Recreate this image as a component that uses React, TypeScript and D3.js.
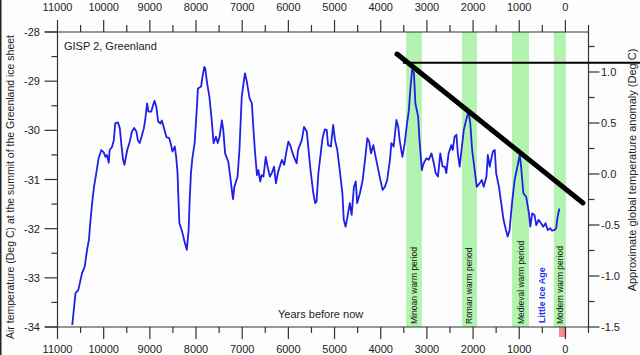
import React from "react";
import * as d3 from "d3";

const years = [10680,10610,10550,10470,10410,10360,10320,10290,10250,10210,10160,10110,10050,10000,9960,9930,9890,9870,9820,9780,9750,9690,9650,9620,9580,9550,9490,9440,9390,9340,9290,9260,9220,9180,9130,9100,9060,9030,8970,8940,8900,8860,8820,8770,8740,8700,8640,8580,8540,8510,8460,8430,8400,8380,8360,8300,8250,8200,8160,8140,8110,8080,8030,7980,7960,7890,7860,7820,7800,7760,7710,7660,7620,7570,7530,7490,7440,7410,7370,7300,7250,7200,7170,7100,7060,7010,6970,6940,6900,6840,6790,6760,6720,6680,6650,6610,6580,6540,6490,6450,6400,6360,6310,6270,6220,6140,6090,6050,6000,5960,5930,5880,5820,5790,5710,5660,5600,5570,5520,5460,5420,5390,5350,5300,5260,5210,5170,5140,5080,5030,4990,4940,4880,4830,4800,4760,4720,4670,4630,4580,4540,4510,4450,4390,4340,4290,4250,4210,4160,4110,4030,3960,3910,3860,3800,3770,3720,3660,3620,3590,3530,3480,3430,3390,3360,3320,3280,3250,3190,3160,3110,3070,3010,2960,2900,2850,2810,2760,2710,2660,2610,2580,2530,2470,2440,2400,2360,2330,2290,2250,2200,2150,2100,2060,2020,1970,1920,1860,1810,1770,1710,1680,1640,1610,1570,1530,1500,1440,1390,1340,1280,1250,1210,1150,1100,1040,990,960,910,850,790,760,720,670,630,580,530,480,430,380,330,290,240,200,170,130];

const temps = [-33.96,-33.31,-33.25,-32.91,-32.77,-32.43,-32.23,-31.88,-31.48,-31.15,
-30.87,-30.57,-30.40,-30.45,-30.54,-30.50,-30.66,-30.40,-30.34,-30.20,
-29.86,-29.84,-29.96,-30.26,-30.60,-30.70,-30.40,-30.25,-30.03,-29.95,
-30.03,-30.20,-30.26,-30.13,-29.96,-29.79,-29.45,-29.62,-29.62,-29.52,
-29.40,-29.52,-29.82,-29.86,-29.80,-29.93,-30.14,-30.16,-30.30,-30.43,
-30.33,-30.54,-30.87,-31.42,-31.89,-32.06,-32.26,-32.43,-32.03,-31.48,
-30.87,-30.57,-30.26,-29.52,-29.15,-29.11,-28.91,-28.71,-28.74,-29.04,
-29.32,-29.79,-30.26,-30.13,-30.26,-30.13,-29.80,-29.99,-30.47,-30.64,
-31.01,-31.40,-31.15,-30.94,-30.40,-29.32,-29.04,-28.84,-29.01,-29.35,
-29.45,-29.93,-30.47,-30.91,-30.81,-31.04,-30.91,-30.94,-30.54,-30.74,
-30.94,-30.87,-30.74,-31.08,-30.84,-30.60,-30.70,-30.47,-30.23,-30.30,
-30.40,-30.54,-30.67,-30.40,-30.20,-29.93,-30.03,-30.33,-30.81,-31.28,
-31.48,-31.45,-30.87,-30.47,-30.16,-29.98,-29.99,-30.30,-30.33,-29.89,
-30.20,-30.40,-30.87,-31.28,-31.82,-31.96,-31.76,-31.48,-31.72,-31.15,
-31.04,-31.48,-31.28,-31.01,-30.60,-30.16,-30.23,-30.47,-30.30,-30.54,
-30.91,-31.21,-31.15,-31.01,-30.60,-30.26,-30.33,-29.79,-29.93,-30.20,
-30.54,-30.26,-29.86,-29.59,-29.18,-28.77,-28.84,-29.45,-29.72,-30.20,
-30.81,-30.67,-30.57,-30.60,-30.47,-30.67,-30.87,-30.94,-30.47,-30.74,
-30.74,-30.87,-30.47,-30.30,-30.40,-30.13,-30.09,-30.47,-30.74,-30.40,
-29.99,-29.79,-29.62,-29.86,-30.40,-30.77,-31.15,-31.08,-31.01,-31.15,
-30.94,-30.50,-30.74,-30.60,-30.43,-30.40,-30.87,-31.15,-31.48,-31.82,
-32.06,-32.16,-32.03,-31.42,-31.01,-30.74,-30.50,-30.74,-31.28,-31.35,
-31.69,-31.96,-31.69,-31.72,-31.93,-31.82,-31.89,-31.96,-31.89,-32.03,
-31.99,-32.04,-32.03,-31.99,-31.76,-31.59];

const yearTicks = [11000,10000,9000,8000,7000,6000,5000,4000,3000,2000,1000,0];
const yearMinorTicks = [10500,9500,8500,7500,6500,5500,4500,3500,2500,1500,500,-500];
const tempTicks = [-34,-33,-32,-31,-30,-29,-28];
const tempMinorTicks = [-33.5,-32.5,-31.5,-30.5,-29.5,-28.5];
const anomTicks = [1.0,0.5,0.0,-0.5,-1.0,-1.5];
const anomMinorTicks = [1.25,0.75,0.25,-0.25,-0.75,-1.25];

const bandNames = ["Minoan warm period","Roman warm period","Medieval warm period","Modern warm period"];
const bandStart = [3450,2240,1155,250];
const bandEnd = [3110,1915,790,-10];
const iceAgeLabel = "Little Ice Age";
const iceAgeYear = 510;

// black trend lines (year, anomaly)
const flatLineYears = [3520,-1620];
const flatLineAnom = [1.09,1.09];
const trendYears = [3647,-381];
const trendAnom = [1.176,-0.284];
const nowMarkYears = [140,-20];

const FONT = "'Liberation Sans', Arial, Helvetica, sans-serif";

export default function App() {
  const x = d3.scaleLinear().domain([11000,-500]).range([57.5,588.5]);
  const yL = d3.scaleLinear().domain([-34,-28]).range([327,32]);
  const yR = d3.scaleLinear().domain([-1.5,1.0]).range([327,72]);
  const top = 32, bottom = 327, left = x(11000), right = x(-500);
  const axisColor = "#333";
  const line = d3.line<number>().x((d,i)=>x(years[i])).y((d)=>yL(d)).curve(d3.curveLinear);
  const lineR = d3.line<[number,number]>().x(d=>x(d[0])).y(d=>yR(d[1]));

  return (
    <svg width={640} height={355} style={{position:"absolute",left:0,top:0,background:"#fdfdfd"}} fontFamily={FONT}>
      <rect x={0} y={0} width={640} height={355} fill="#fdfdfd" />
      <line x1={0.75} x2={0.75} y1={0} y2={355} stroke="#222" strokeWidth={1.5} />
      {/* bands */}
      {bandStart.map((s,i)=>(
        <rect key={"b"+i} x={x(s)} y={top} width={x(bandEnd[i])-x(s)} height={bottom-top} fill="#b3f3b0" />
      ))}
      {bandNames.map((n,i)=>{
        const cx = (x(bandStart[i])+x(bandEnd[i]))/2;
        return <text key={"bl"+i} transform={`translate(${cx+3},324) rotate(-90)`} fontSize={8.5} fill="#111">{n}</text>;
      })}
      <text transform={`translate(${x(iceAgeYear)+3.5},323) rotate(-90)`} fontSize={9} fontWeight="bold" fill="#2233ee">{iceAgeLabel}</text>
      <rect x={x(nowMarkYears[0])} y={bottom} width={x(nowMarkYears[1])-x(nowMarkYears[0])} height={10} fill="#f78a8a" />

      {/* axes */}
      <line x1={45} x2={right} y1={top} y2={top} stroke={axisColor} strokeWidth={1.2} />
      <line x1={45} x2={right} y1={bottom} y2={bottom} stroke={axisColor} strokeWidth={1.2} />
      <line x1={left} x2={left} y1={top} y2={bottom} stroke={axisColor} strokeWidth={1.2} />
      <line x1={right} x2={right} y1={top} y2={bottom} stroke={axisColor} strokeWidth={1.2} />
      {yearTicks.map(t=>(
        <g key={"yt"+t}>
          <line x1={x(t)} x2={x(t)} y1={top} y2={top-12} stroke={axisColor} strokeWidth={1.2} />
          <line x1={x(t)} x2={x(t)} y1={bottom} y2={bottom+12} stroke={axisColor} strokeWidth={1.2} />
          <text x={x(t)} y={11} textAnchor="middle" fontSize={11} fill="#222">{t}</text>
          <text x={x(t)} y={353} textAnchor="middle" fontSize={11} fill="#222">{t}</text>
        </g>
      ))}
      {yearMinorTicks.map(t=>(
        <g key={"ym"+t}>
          <line x1={x(t)} x2={x(t)} y1={top} y2={top-7} stroke={axisColor} strokeWidth={1.2} />
          <line x1={x(t)} x2={x(t)} y1={bottom} y2={bottom+6} stroke={axisColor} strokeWidth={1.2} />
        </g>
      ))}
      {tempTicks.map(t=>(
        <g key={"tt"+t}>
          <line x1={left-13} x2={left} y1={yL(t)} y2={yL(t)} stroke={axisColor} strokeWidth={1.2} />
          <text x={40} y={yL(t)+4} textAnchor="end" fontSize={11} fill="#222">{t}</text>
        </g>
      ))}
      {tempMinorTicks.map(t=>(
        <line key={"tm"+t} x1={left-6} x2={left} y1={yL(t)} y2={yL(t)} stroke={axisColor} strokeWidth={1.2} />
      ))}
      {anomTicks.map(t=>(
        <g key={"at"+t}>
          <line x1={right} x2={right+11} y1={yR(t)} y2={yR(t)} stroke={axisColor} strokeWidth={1.2} />
          <text x={601} y={yR(t)+4} fontSize={11} fill="#222">{t.toFixed(1)}</text>
        </g>
      ))}
      {anomMinorTicks.map(t=>(
        <line key={"am"+t} x1={right} x2={right+6} y1={yR(t)} y2={yR(t)} stroke={axisColor} strokeWidth={1.2} />
      ))}

      {/* titles */}
      <text transform="translate(14,187) rotate(-90)" textAnchor="middle" fontSize={10.5} fill="#222">Air temperature (Deg C) at the summit of the Greenland ice sheet</text>
      <text transform="translate(636,170) rotate(-90)" textAnchor="middle" fontSize={11} fill="#222">Approximate global temperature anomaly (Deg C)</text>
      <text x={64} y={50} fontSize={11} fill="#222">GISP 2, Greenland</text>
      <text x={278} y={318} fontSize={11} fill="#222">Years before now</text>

      {/* data */}
      <path d={line(temps) || ""} fill="none" stroke="#1f1fe6" strokeWidth={1.8} strokeLinejoin="round" />
      <path d={lineR(flatLineYears.map((yy,i)=>[yy,flatLineAnom[i]] as [number,number])) || ""} fill="none" stroke="#000" strokeWidth={2} />
      <path d={lineR(trendYears.map((yy,i)=>[yy,trendAnom[i]] as [number,number])) || ""} fill="none" stroke="#000" strokeWidth={5} strokeLinecap="round" />
    </svg>
  );
}
